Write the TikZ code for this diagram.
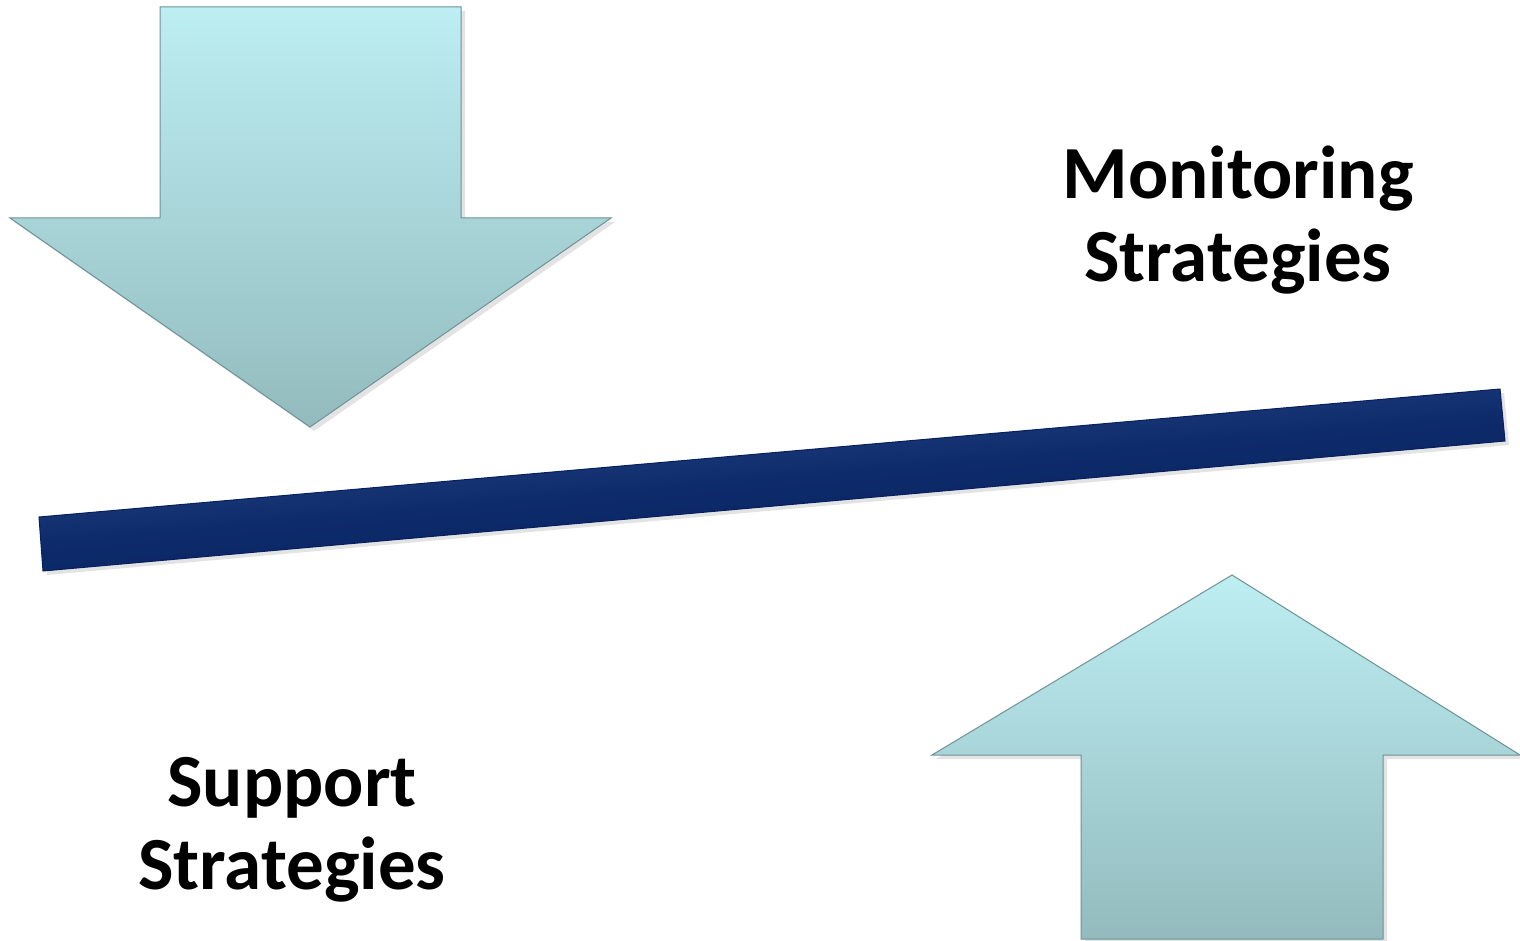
\documentclass[tikz,border=0pt]{standalone}
\usepackage{fontspec}
\setmainfont{Carlito}
\definecolor{arrtop}{HTML}{BDEEF2}
\definecolor{arrbot}{HTML}{93BBBE}
\definecolor{arredge}{HTML}{6E9296}
\definecolor{bartop}{HTML}{3A5A9A}
\definecolor{barmid}{HTML}{0D2A6A}
\definecolor{barbot}{HTML}{06205C}
\definecolor{shadowc}{HTML}{C8C8C8}
\tikzset{
  arrowshape/.style={top color=arrtop, bottom color=arrbot, draw=arredge, line width=1pt, line join=miter},
  shadowshape/.style={fill=shadowc, opacity=0.5},
  barshape/.style={top color=bartop, bottom color=barbot, middle color=barmid, shading angle=5, draw=barbot, line width=1pt},
  label/.style={font=\bfseries\fontsize{75}{83}\selectfont, align=center, text=black}
}
\begin{document}
\begin{tikzpicture}[x=1pt,y=-1pt]
\useasboundingbox (0,0) rectangle (1520,941);
\fill[white] (0,0) rectangle (1520,941);
% down arrow
\fill[shadowshape] (164,11) -- (465,11) -- (465,222) -- (615,222) -- (314,431) -- (14,222) -- (164,222) -- cycle;
\shade[arrowshape] (160,7) -- (461,7) -- (461,218) -- (611,218) -- (310,427) -- (10,218) -- (160,218) -- cycle;
% bar
\fill[shadowshape] (43,521) -- (1504,393) -- (1509,445) -- (47,575) -- cycle;
\shade[barshape] (39,517) -- (1500,389) -- (1505,441) -- (43,571) -- cycle;
% up arrow
\fill[shadowshape] (1236,579) -- (1524,759) -- (1387,759) -- (1387,941) -- (1085,941) -- (1085,759) -- (936,759) -- cycle;
\shade[arrowshape] (1232,575) -- (1520,755) -- (1383,755) -- (1383,939) -- (1081,939) -- (1081,755) -- (932,755) -- cycle;
% labels
\node[label] (mon) at (1238,220) {Monitoring\\Strategies};
\node[label] (sup) at (292,830) {Support\\Strategies};
\end{tikzpicture}
\end{document}
